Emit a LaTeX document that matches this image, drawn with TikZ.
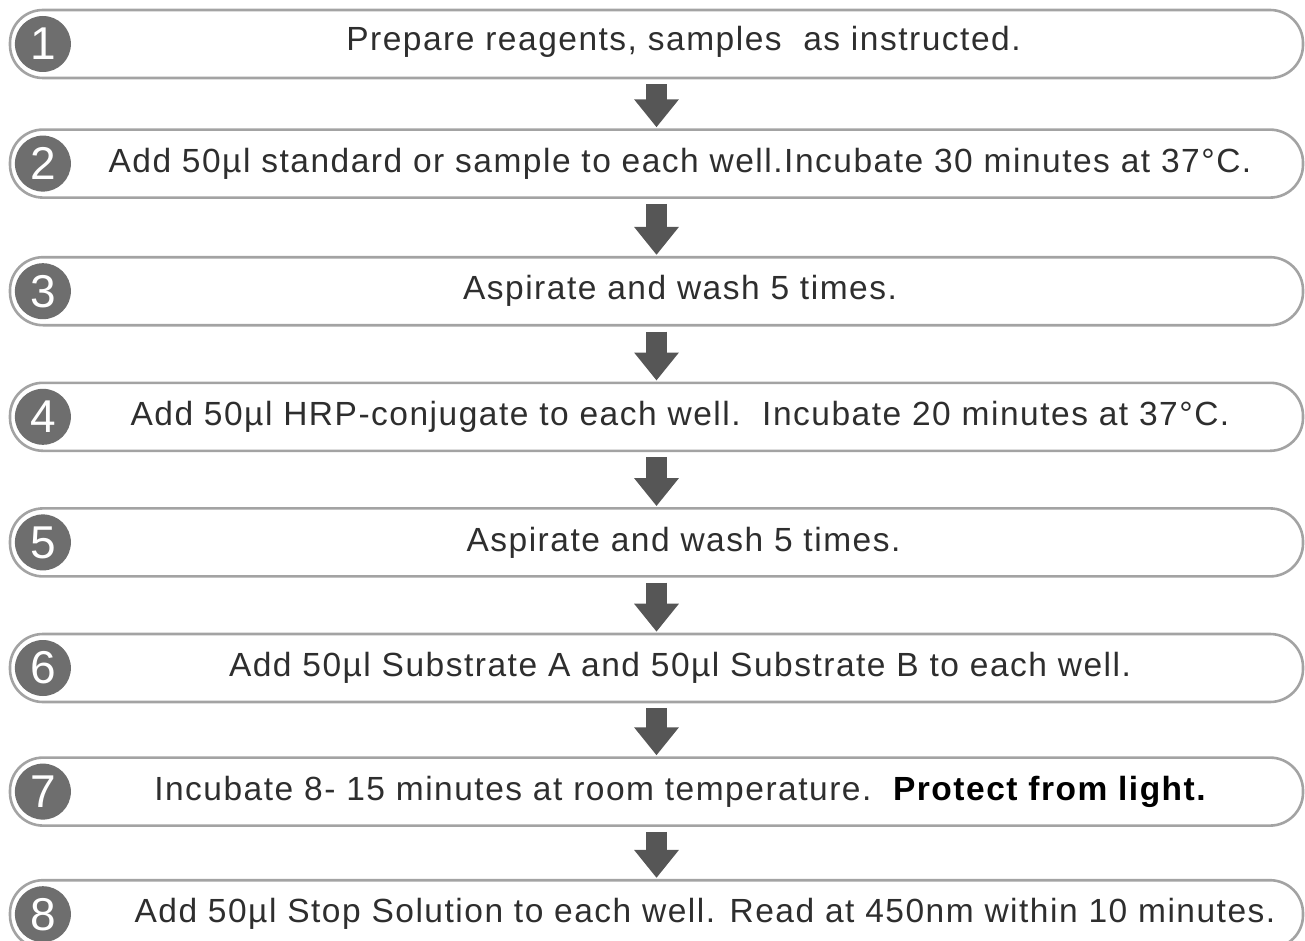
\documentclass[tikz,border=0pt]{standalone}
\usepackage{fontspec}
\setmainfont{Liberation Sans}
\usetikzlibrary{arrows.meta, positioning}

\definecolor{boxline}{HTML}{A3A3A3}
\definecolor{numfill}{HTML}{6E6E6E}
\definecolor{arrowgray}{HTML}{565656}
\definecolor{textgray}{HTML}{2E2E2E}

\begin{document}
\begin{tikzpicture}[
    x=1pt, y=-1pt,
    node distance=55pt,
    stepbox/.style={draw=boxline, line width=2.6pt, rounded corners=33pt,
        fill=white, minimum width=1293pt, minimum height=68pt, inner sep=0pt},
    stepnum/.style={circle, fill=numfill, minimum size=56pt, inner sep=0pt,
        text=white, font=\fontsize{46}{46}\selectfont},
    steptext/.style={text=textgray, inner sep=0pt,
        font=\fontsize{33.5}{35}\selectfont\addfontfeatures{LetterSpace=4.5}},
    steparrow/.style={arrowgray, line width=21pt, shorten <=5pt, shorten >=1pt,
        -{Triangle[length=28pt, width=43pt]}}
]
\useasboundingbox (0,0) rectangle (1305,941);

%-------------------------------
% 1) Step boxes
%-------------------------------
\node[stepbox] (step1) at (656.5,44) {};
\node[stepbox, below=49pt of step1] (step2) {};
\node[stepbox, below=57pt of step2] (step3) {};
\node[stepbox, below=55pt of step3] (step4) {};
\node[stepbox, below=55pt of step4] (step5) {};
\node[stepbox, below=55pt of step5] (step6) {};
\node[stepbox, below=53pt of step6] (step7) {};
\node[stepbox, below=52pt of step7] (step8) {};

%-------------------------------
% 2) Numbers in the left circles
%-------------------------------
\node[stepnum, right=6pt of step1.west] (num1) {1};
\node[stepnum, right=6pt of step2.west] (num2) {2};
\node[stepnum, right=6pt of step3.west] (num3) {3};
\node[stepnum, right=6pt of step4.west] (num4) {4};
\node[stepnum, right=6pt of step5.west] (num5) {5};
\node[stepnum, right=6pt of step6.west] (num6) {6};
\node[stepnum, right=6pt of step7.west] (num7) {7};
\node[stepnum, right=6pt of step8.west] (num8) {8};

%-------------------------------
% 3) Step texts
%-------------------------------
\node[steptext, xshift=27pt, yshift=2pt] (text1) at (step1.center)
    {Prepare reagents, samples\ \ as instructed.};
\node[steptext, xshift=23.5pt] (text2) at (step2.center)
    {Add 50µl standard or sample to each well.Incubate 30 minutes at 37°C.};
\node[steptext, xshift=23.5pt] (text3) at (step3.center)
    {Aspirate and wash 5 times.};
\node[steptext, xshift=23.5pt] (text4) at (step4.center)
    {Add 50µl HRP-conjugate to each well.\ \ Incubate 20 minutes at 37°C.};
\node[steptext, xshift=27pt] (text5) at (step5.center)
    {Aspirate and wash 5 times.};
\node[steptext, xshift=23.5pt] (text6) at (step6.center)
    {Add 50µl Substrate A and 50µl Substrate B to each well.};
\node[steptext, xshift=23.5pt] (text7) at (step7.center)
    {Incubate 8- 15 minutes at room temperature.\ \ \textbf{\textcolor{black}{Protect from light.}}};
\node[steptext, xshift=48.5pt] (text8) at (step8.center)
    {Add 50µl Stop Solution to each well. Read at 450nm within 10 minutes.};

%-------------------------------
% 4) Arrows between the steps
%-------------------------------
\draw[steparrow] (step1.south) -- (step2.north);
\draw[steparrow] (step2.south) -- (step3.north);
\draw[steparrow] (step3.south) -- (step4.north);
\draw[steparrow] (step4.south) -- (step5.north);
\draw[steparrow] (step5.south) -- (step6.north);
\draw[steparrow] (step6.south) -- (step7.north);
\draw[steparrow] (step7.south) -- (step8.north);

\end{tikzpicture}
\end{document}
